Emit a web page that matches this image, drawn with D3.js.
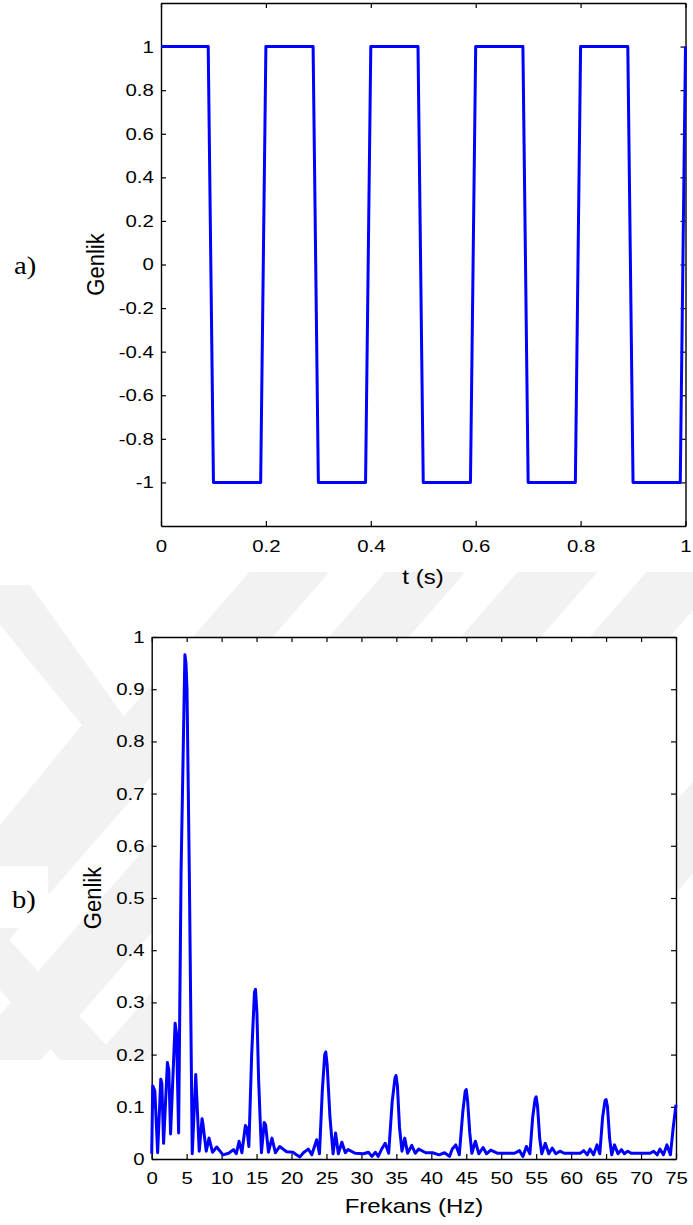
<!DOCTYPE html>
<html lang="en">
  <head>
    <script src="https://cdn.jsdelivr.net/npm/d3@7/dist/d3.min.js"></script>
    <style>
      body {
        margin: 0;
        background: #fff;
      }
      svg {
        display: block;
        background: #fff;
      }
      .tick text, .lbl {
        font-family: Arial, 'Liberation Sans', sans-serif;
        fill: #000;
      }
      .panel {
        font-family: 'Times New Roman', 'Liberation Serif', serif;
        fill: #000;
      }
    </style>
  </head>
  <body>
    <svg></svg>
  </body>
  <script>

    // a) square wave, sampled (time in s)
    const timeS = [0, 0.09, 0.1, 0.19, 0.2, 0.29, 0.3, 0.39, 0.4, 0.49, 0.5,
                   0.59, 0.6, 0.69, 0.7, 0.79, 0.8, 0.89, 0.9, 0.99, 1.0];
    const waveAmp = [1, 1, -1, -1, 1, 1, -1, -1, 1, 1, -1,
                     -1, 1, 1, -1, -1, 1, 1, -1, -1, 1];
    const timeTicks = [0, 0.2, 0.4, 0.6, 0.8, 1];
    const waveTicks = [-1, -0.8, -0.6, -0.4, -0.2, 0, 0.2, 0.4, 0.6, 0.8, 1];

    // b) amplitude spectrum
    const freqHz = [0, 0.15, 0.45, 0.85, 1.3, 1.45, 1.7, 2.25, 2.45, 2.7, 3.35, 3.55, 3.85,
      4.2, 4.75, 4.9, 5.05, 5.38, 5.8, 6.3, 6.8, 7.2, 7.3, 7.8, 8.2, 8.7, 9.3, 10.2, 11.0,
      11.7, 12.1, 12.5, 12.9, 13.4, 13.6, 13.9, 14.3, 14.7, 14.85, 15.05, 15.3, 15.7, 16.1,
      16.3, 16.7, 17.2, 17.7, 18.3, 19.3, 20.2, 20.7, 21.2, 21.7, 22.4, 22.9, 23.6, 24.0,
      24.4, 24.75, 24.9, 25.1, 25.5, 25.95, 26.3, 26.7, 27.2, 27.7, 28.1, 29.1, 30.3, 31.0,
      31.5, 32.0, 32.4, 32.9, 33.4, 33.9, 34.4, 34.8, 34.95, 35.15, 35.45, 35.8, 36.2, 36.6,
      37.2, 37.7, 38.2, 39.2, 40.2, 41.1, 41.9, 42.6, 43.0, 43.5, 44.0, 44.5, 44.85, 45.0,
      45.2, 45.5, 45.8, 46.3, 46.8, 47.4, 47.9, 48.5, 49.5, 51.9, 52.6, 53.1, 53.6, 54.1,
      54.5, 54.85, 55.0, 55.2, 55.5, 55.8, 56.3, 56.8, 57.3, 57.8, 58.4, 59.0, 61.3, 61.8,
      62.3, 62.7, 63.2, 63.7, 64.1, 64.5, 64.85, 65.0, 65.2, 65.5, 65.8, 66.2, 66.7, 67.2,
      67.6, 68.1, 68.6, 71.3, 71.8, 72.3, 72.7, 73.2, 73.7, 74.2, 74.6, 75.0];
    const specAmp = [0.01, 0.14, 0.13, 0.012, 0.153, 0.145, 0.03, 0.185, 0.17, 0.048, 0.26, 0.24, 0.05,
      0.55, 0.966, 0.95, 0.9, 0.55, 0.01, 0.162, 0.015, 0.077, 0.07, 0.015, 0.04, 0.013, 0.023, 0.008, 0.011,
      0.018, 0.01, 0.034, 0.012, 0.064, 0.06, 0.024, 0.2, 0.32, 0.325, 0.28, 0.15, 0.012, 0.07,
      0.065, 0.013, 0.04, 0.012, 0.024, 0.014, 0.013, 0.008, 0.004, 0.012, 0.019, 0.008, 0.037, 0.01,
      0.13, 0.2, 0.205, 0.18, 0.08, 0.01, 0.05, 0.01, 0.032, 0.012, 0.018, 0.011, 0.01, 0.013,
      0.005, 0.013, 0.005, 0.019, 0.03, 0.011, 0.11, 0.155, 0.16, 0.14, 0.06, 0.015, 0.04, 0.011,
      0.026, 0.011, 0.019, 0.012, 0.012, 0.008, 0.012, 0.005, 0.019, 0.027, 0.008, 0.09, 0.13, 0.133,
      0.11, 0.05, 0.011, 0.034, 0.01, 0.022, 0.01, 0.017, 0.011, 0.011, 0.016, 0.005, 0.024, 0.01,
      0.08, 0.115, 0.119, 0.1, 0.04, 0.01, 0.03, 0.01, 0.021, 0.01, 0.015, 0.011, 0.011, 0.016,
      0.008, 0.019, 0.008, 0.027, 0.01, 0.08, 0.112, 0.114, 0.1, 0.04, 0.008, 0.027, 0.01, 0.018,
      0.01, 0.015, 0.011, 0.011, 0.015, 0.008, 0.019, 0.008, 0.027, 0.008, 0.06, 0.104];
    const freqTicks = [0, 5, 10, 15, 20, 25, 30, 35, 40, 45, 50, 55, 60, 65, 70, 75];
    const specTicks = [0, 0.1, 0.2, 0.3, 0.4, 0.5, 0.6, 0.7, 0.8, 0.9, 1];

    const W = 693, H = 1225;
    const stretch = 1.2;   // the source picture is widened horizontally
    const svg = d3.select('svg').attr('width', W).attr('height', H);

    // faint watermark stripes behind the lower panel
    svg.append('defs').append('clipPath').attr('id', 'wmClip')
      .append('rect').attr('x', 0).attr('y', 572).attr('width', W).attr('height', 488);
    const wm = svg.append('g').attr('fill', '#f2f2f2').attr('clip-path', 'url(#wmClip)');
    [225, 361, 493, 622, 851].forEach(x0 => {
      const pts = [[x0 + 87, 500], [x0 + 167, 500], [x0 + 80 - 522, 1200], [x0 - 522, 1200]];
      wm.append('polygon').attr('points', pts.map(p => p.join(',')).join(' '));
    });
    wm.append('polygon').attr('points',
      '0,585 30,585 130,725 30,865 0,865 0,825 82,725 0,625');
    wm.append('polygon').attr('points', '0,930 0,990 60,1060 120,1060');

    function box(opt) {
      const x = d3.scaleLinear().domain(opt.xDomain).range([opt.left, opt.right]);
      const y = d3.scaleLinear().domain(opt.yDomain).range([opt.bottom, opt.top]);
      const fmt = d => String(+d.toFixed(2));

      svg.append('rect')
        .attr('x', opt.left).attr('y', opt.top)
        .attr('width', opt.right - opt.left).attr('height', opt.bottom - opt.top)
        .attr('fill', '#fff');

      const g = svg.append('g');
      const axes = [
        [d3.axisBottom(x).tickValues(opt.xTicks).tickFormat(fmt).tickPadding(opt.xPad), 0, opt.bottom],
        [d3.axisTop(x).tickValues(opt.xTicks).tickFormat(''), 0, opt.top],
        [d3.axisLeft(y).tickValues(opt.yTicks).tickFormat(fmt).tickPadding(6), opt.left, 0],
        [d3.axisRight(y).tickValues(opt.yTicks).tickFormat(''), opt.right, 0]
      ];
      axes.forEach(([ax, tx, ty]) => {
        const a = g.append('g')
          .attr('transform', 'translate(' + tx + ',' + ty + ')')
          .call(ax.tickSizeInner(-5).tickSizeOuter(0));
        a.select('.domain').attr('stroke', '#000').attr('stroke-width', 1.4);
        a.selectAll('.tick line').attr('stroke', '#000').attr('stroke-width', 1.2);
        a.selectAll('.tick text')
          .attr('font-size', 17)
          .attr('transform', 'scale(' + stretch + ',1)');
      });
      return { x, y };
    }

    // ---- a) time signal
    const panelA = box({
      left: 161, right: 685.5, top: 3, bottom: 526,
      xDomain: [0, 1], yDomain: [-1.2, 1.2],
      xTicks: timeTicks, yTicks: waveTicks, xPad: 14
    });
    svg.append('path')
      .datum(timeS.map((t, i) => [t, waveAmp[i]]))
      .attr('fill', 'none')
      .attr('stroke', '#0000ff')
      .attr('stroke-width', 3)
      .attr('stroke-linejoin', 'round')
      .attr('d', d3.line().x(d => panelA.x(d[0])).y(d => panelA.y(d[1])));

    // ---- b) spectrum
    const panelB = box({
      left: 151.7, right: 676, top: 637, bottom: 1159,
      xDomain: [0, 75], yDomain: [0, 1],
      xTicks: freqTicks, yTicks: specTicks, xPad: 13
    });
    svg.append('path')
      .datum(freqHz.map((f, i) => [f, specAmp[i]]))
      .attr('fill', 'none')
      .attr('stroke', '#0000ff')
      .attr('stroke-width', 3)
      .attr('stroke-linejoin', 'round')
      .attr('d', d3.line().x(d => panelB.x(d[0])).y(d => panelB.y(d[1])));

    // axis titles
    function title(txt, x, y, rot) {
      svg.append('text').attr('class', 'lbl')
        .attr('font-size', rot ? 22 : 20)
        .attr('text-anchor', 'middle')
        .attr('transform', 'translate(' + x + ',' + y + ')' +
          (rot ? ' rotate(-90) scale(1,1.1)' : ' scale(' + stretch + ',1)'))
        .text(txt);
    }
    title('t (s)', 423, 584, false);
    title('Genlik', 104, 264.5, true);
    title('Frekans (Hz)', 414, 1213, false);
    title('Genlik', 101, 898, true);

    // panel letters
    svg.append('rect').attr('x', 0).attr('y', 866).attr('width', 48).attr('height', 62).attr('fill', '#fff');
    [['a)', 14, 274], ['b)', 12, 908]].forEach(([s, x, y]) => {
      svg.append('text').attr('class', 'panel')
        .attr('font-size', 26)
        .attr('transform', 'translate(' + x + ',' + y + ') scale(1.1,1)')
        .text(s);
    });
  </script>
</html>
